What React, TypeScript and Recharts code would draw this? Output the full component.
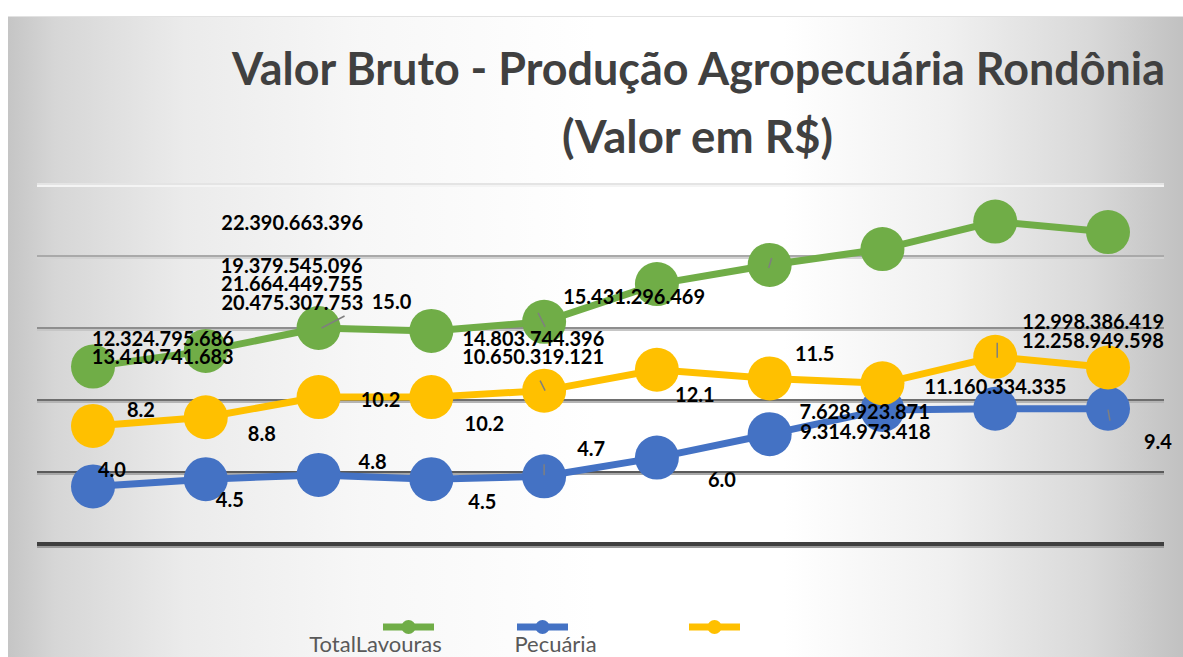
import { LineChart, Line, XAxis, YAxis, ReferenceLine, LabelList } from 'recharts';

// valores em bilhões de R$
const periodos = ['1', '2', '3', '4', '5', '6', '7', '8', '9', '10'];
const totalLavouras = [12.32, 13.41, 15.0, 14.8, 15.43, 18.05, 19.38, 20.48, 22.39, 21.66];
const pecuaria = [4.0, 4.5, 4.8, 4.5, 4.7, 6.0, 7.63, 9.31, 9.39, 9.4];
const semNome = [8.2, 8.8, 10.2, 10.2, 10.65, 12.1, 11.5, 11.16, 13.0, 12.26];

const totalRotulos = [
  '12.324.795.686', '13.410.741.683', '15.0', '14.803.744.396', '15.431.296.469',
  '', '19.379.545.096', '20.475.307.753', '22.390.663.396', '21.664.449.755',
];
const pecuariaRotulos = ['4.0', '4.5', '4.8', '4.5', '4.7', '6.0', '7.628.923.871', '9.314.973.418', '', '9.4'];
const semNomeRotulos = [
  '8.2', '8.8', '10.2', '10.2', '10.650.319.121', '12.1', '11.5',
  '11.160.334.335', '12.998.386.419', '12.258.949.598',
];

// deslocamento dos rótulos em relação ao ponto (o gráfico original tem rótulos fora do lugar)
const totalDesloc = [[70, -29], [-43, 5], [73, -27], [102, 7], [90, -26], [0, 0], [-478, 0], [-590, 53], [-703, 0], [-816, 51]];
const semNomeDesloc = [[48, -17], [56, 16], [62, 2], [53, 26], [-11, -35], [38, 24], [45, -25], [113, 3], [98, -36], [-15, -27]];
const pecuariaDesloc = [[19, -17], [24, 20], [54, -14], [51, 22], [47, -28], [65, 21], [95, -23], [-17, 21], [0, 0], [50, 32]];

// linhas de chamada pequenas
const totalChamada: Record<number, number[]> = { 2: [3, 0, 26, -12], 4: [-6, -9, 1, 5], 6: [-1, 3, 2, -7] };
const semNomeChamada: Record<number, number[]> = { 4: [-4, -10, 1, 0], 8: [2, -14, 2, 1] };
const pecuariaChamada: Record<number, number[]> = { 4: [0, -12, 0, -1], 9: [0, 1, 2, 12] };

const VERDE = '#70AD47';
const AZUL = '#4472C4';
const AMARELO = '#FFC000';

const data = periodos.map((p, i) => ({
  periodo: p,
  total: totalLavouras[i],
  pecuaria: pecuaria[i],
  outro: semNome[i],
}));

function makeLabel(textos: string[], desloc: number[][], chamadas: Record<number, number[]>) {
  return (props: any) => {
    const { x, y, index } = props;
    if (x == null || y == null) return null;
    const t = textos[index];
    const [dx, dy] = desloc[index] || [0, 0];
    const c = chamadas[index];
    return (
      <g key={`lbl-${index}`}>
        {c && (
          <line x1={x + c[0]} y1={y + c[1]} x2={x + c[2]} y2={y + c[3]} stroke="#7f7f7f" strokeWidth={1.5} />
        )}
        {t && (
          <text
            x={x + dx}
            y={y + dy}
            textAnchor="middle"
            dominantBaseline="central"
            fontFamily="Lato, sans-serif"
            fontWeight={700}
            fontSize={20}
            fill="#000"
          >
            {t}
          </text>
        )}
      </g>
    );
  };
}

// linha de grade com "sombra" clara logo abaixo
function gradeComSombra(cor: string, sombra: string, larg: number) {
  return (props: any) => {
    const { x1, x2, y1, y2 } = props;
    if (x1 == null) return null;
    return (
      <g>
        <line x1={x1} x2={x2} y1={y1 + larg / 2 + 1} y2={y2 + larg / 2 + 1} stroke={sombra} strokeWidth={2} />
        <line x1={x1} x2={x2} y1={y1} y2={y2} stroke={cor} strokeWidth={larg} />
      </g>
    );
  };
}

const W = 1175;
const H = 641;

export default function App() {
  return (
    <>
      <style>{'body{margin:0;overflow:hidden}'}</style>
      <div
        style={{
          position: 'absolute',
          left: 8,
          top: 16,
          width: W,
          height: H,
          borderTop: '1px solid #e2e2e2',
          background:
            'linear-gradient(90deg, #c5c5c5 0%, #d6d6d6 4%, #ebebeb 15%, #f7f7f7 30%, #ffffff 50%, #ffffff 66%, #f0f0f0 80%, #d9d9d9 92%, #c1c1c1 100%)',
        }}
      >
        <LineChart width={W} height={H} data={data} margin={{ top: 167, right: 19, bottom: 114, left: 29 }}>
          <XAxis dataKey="periodo" hide padding={{ left: 56, right: 56 }} />
          <YAxis hide domain={[0, 25]} />
          <ReferenceLine y={25} shape={gradeComSombra('#e4e4e4', '#f4f4f4', 2)} />
          <ReferenceLine y={20} shape={gradeComSombra('#a9a9a9', '#d2d2d2', 2)} />
          <ReferenceLine y={15} shape={gradeComSombra('#8e8e8e', '#c6c6c6', 2)} />
          <ReferenceLine y={10} shape={gradeComSombra('#6e6e6e', '#b4b4b4', 2)} />
          <ReferenceLine y={5} shape={gradeComSombra('#5a5a5a', '#a8a8a8', 2)} />
          <ReferenceLine y={0} shape={gradeComSombra('#3f3f3f', '#9a9a9a', 4)} />

          <Line dataKey="total" stroke={VERDE} strokeWidth={7} dot={{ r: 22, fill: VERDE, stroke: VERDE, strokeWidth: 0 }} activeDot={false} isAnimationActive={false} />
          <Line dataKey="pecuaria" stroke={AZUL} strokeWidth={7} dot={{ r: 22, fill: AZUL, stroke: AZUL, strokeWidth: 0 }} activeDot={false} isAnimationActive={false} />
          <Line dataKey="outro" stroke={AMARELO} strokeWidth={7} dot={{ r: 22, fill: AMARELO, stroke: AMARELO, strokeWidth: 0 }} activeDot={false} isAnimationActive={false} />

          {/* camadas só de rótulos, por cima de todas as séries */}
          <Line dataKey="total" stroke="none" dot={false} activeDot={false} legendType="none" isAnimationActive={false}>
            <LabelList dataKey="total" content={makeLabel(totalRotulos, totalDesloc, totalChamada)} />
          </Line>
          <Line dataKey="outro" stroke="none" dot={false} activeDot={false} legendType="none" isAnimationActive={false}>
            <LabelList dataKey="outro" content={makeLabel(semNomeRotulos, semNomeDesloc, semNomeChamada)} />
          </Line>
          <Line dataKey="pecuaria" stroke="none" dot={false} activeDot={false} legendType="none" isAnimationActive={false}>
            <LabelList dataKey="pecuaria" content={makeLabel(pecuariaRotulos, pecuariaDesloc, pecuariaChamada)} />
          </Line>
        </LineChart>

        <svg width={W} height={H} style={{ position: 'absolute', left: 0, top: 0, pointerEvents: 'none' }}>
          <g fontFamily="Lato, sans-serif" fontWeight={700} fill="#404040" textAnchor="middle">
            <text x={690.5} y={68} fontSize={45} textLength={933} lengthAdjust="spacingAndGlyphs">
              Valor Bruto - Produção Agropecuária Rondônia
            </text>
            <text x={689.5} y={136} fontSize={45} textLength={271} lengthAdjust="spacingAndGlyphs">
              (Valor em R$)
            </text>
          </g>
          <g fontFamily="Lato, sans-serif" fontSize={22} fill="#595959" textAnchor="middle">
            <line x1={375} x2={426} y1={610} y2={610} stroke={VERDE} strokeWidth={7} />
            <circle cx={400.5} cy={610} r={7} fill={VERDE} />
            <text x={367.5} y={635}>TotalLavouras</text>
            <line x1={509} x2={560} y1={610} y2={610} stroke={AZUL} strokeWidth={7} />
            <circle cx={534.5} cy={610} r={7} fill={AZUL} />
            <text x={547.5} y={635}>Pecuária</text>
            <line x1={681} x2={732} y1={610} y2={610} stroke={AMARELO} strokeWidth={7} />
            <circle cx={706.5} cy={610} r={7} fill={AMARELO} />
          </g>
        </svg>
      </div>
    </>
  );
}
